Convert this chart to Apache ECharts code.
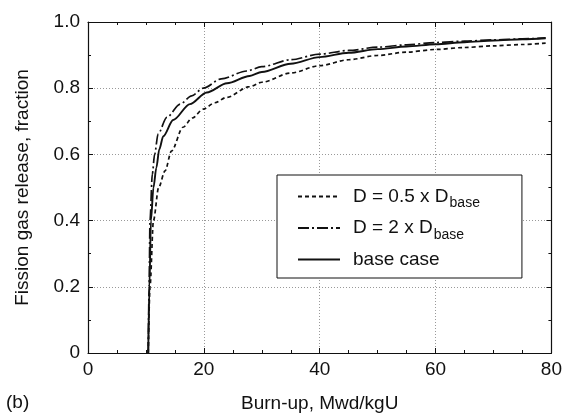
<!DOCTYPE html>
<html>
<head>
<meta charset="utf-8">
<script src="https://cdn.jsdelivr.net/npm/echarts@6/dist/echarts.min.js"></script>
<style>html,body{margin:0;padding:0;background:#fff}#c{width:565px;height:420px}</style>
</head>
<body>
<div id="c"></div>
<script>
// Burn-up (Mwd/kgU) and FGR fraction per case
const halfX = [10.4,10.7,11.3,12.2,13.3,14.4,16.4,18,19.9,21.9,23.9,27.9,30,35,40,45,50,55,60,65,70,75,79];
const halfY = [0,0.2,0.4,0.5,0.55,0.61,0.682,0.71,0.737,0.756,0.772,0.805,0.818,0.846,0.868,0.886,0.899,0.909,0.917,0.923,0.928,0.932,0.936];
const doubleX = [10.4,10.55,10.7,11.1,11.5,12.1,13.6,15.9,17.9,19.9,23,27.4,30,35,40,45,50,55,60,65,70,75,79];
const doubleY = [0,0.2,0.4,0.54,0.6,0.662,0.712,0.752,0.777,0.8,0.828,0.852,0.865,0.886,0.903,0.914,0.924,0.931,0.938,0.942,0.946,0.949,0.952];
const baseX = [10.4,10.6,10.86,11.3,11.8,12.3,13,14.7,17.6,20.5,24,27.9,30,35,40,45,50,55,60,65,70,75,79];
const baseY = [0,0.2,0.4,0.5,0.56,0.615,0.655,0.704,0.752,0.787,0.815,0.837,0.849,0.874,0.894,0.907,0.918,0.926,0.933,0.939,0.944,0.948,0.951];
const xTicks = [0,20,40,60,80];
const yTicks = [0,0.2,0.4,0.6,0.8,1.0];
const names = ['D = 0.5 x D{s|base}', 'D = 2 x D{s|base}', 'base case'];

const zip = (a,b) => a.map((v,i)=>[v,b[i]]);
const FONT = 'Liberation Sans';
const chart = echarts.init(document.getElementById('c'));
const axisCommon = {
  axisLine:{show:true,onZero:false,lineStyle:{color:'#111',width:1.2}},
  axisTick:{show:true,inside:true,length:5,lineStyle:{color:'#111'}},
  minorTick:{show:true,splitNumber:4,length:3,lineStyle:{color:'#111'}},
};
chart.setOption({
  animation:false,
  backgroundColor:'#fff',
  textStyle:{fontFamily:FONT},
  grid:{left:88,right:13,top:22,bottom:67,containLabel:false},
  xAxis:[{
    type:'value',min:xTicks[0],max:xTicks[xTicks.length-1],interval:20,
    ...axisCommon,
    axisLabel:{fontSize:19,color:'#111',margin:7,fontFamily:FONT},
    splitLine:{show:true,lineStyle:{color:'#999',type:[1,2],width:1}},
    name:'Burn-up, Mwd/kgU',nameLocation:'middle',nameGap:41,
    nameTextStyle:{fontSize:19,color:'#111',fontFamily:FONT}
  },{
    type:'value',position:'top',min:0,max:80,interval:20,
    ...axisCommon,axisLabel:{show:false},splitLine:{show:false}
  }],
  yAxis:[{
    type:'value',min:0,max:1,interval:0.2,
    ...axisCommon,
    minorTick:{show:true,splitNumber:2,length:3,lineStyle:{color:'#111'}},
    axisLabel:{fontSize:19,color:'#111',margin:8,fontFamily:FONT,
      formatter:v=> v===0?'0':v.toFixed(1)},
    splitLine:{show:true,lineStyle:{color:'#999',type:[1,2],width:1}},
    name:'Fission gas release, fraction',nameLocation:'middle',nameGap:56,
    nameTextStyle:{fontSize:19,color:'#111',fontFamily:FONT}
  },{
    type:'value',position:'right',min:0,max:1,interval:0.2,
    ...axisCommon,
    minorTick:{show:true,splitNumber:2,length:3,lineStyle:{color:'#111'}},
    axisLabel:{show:false},splitLine:{show:false}
  }],
  legend:{
    orient:'vertical',left:277,top:175,
    data:names,
    itemWidth:42,itemHeight:16,itemGap:8,
    itemStyle:{opacity:0},
    padding:[12,42,9,20],
    backgroundColor:'#fff',borderColor:'#111',borderWidth:1,
    textStyle:{fontSize:19,color:'#111',fontFamily:FONT,padding:[0,0,0,8],
      rich:{s:{fontSize:14,color:'#111',fontFamily:FONT,verticalAlign:'bottom',padding:[14,0,0,1]}}},
    formatter:n=>n
  },
  graphic:[{type:'text',left:6,top:393,style:{text:'(b)',fontSize:19,fill:'#111',fontFamily:FONT}}],
  series:[
    {name:names[0],type:'line',data:zip(halfX,halfY),symbol:'none',smooth:0.3,smoothMonotone:'x',
     lineStyle:{color:'#111',width:1.7,type:[4,3]},itemStyle:{color:'#111'}},
    {name:names[1],type:'line',data:zip(doubleX,doubleY),symbol:'none',smooth:0.3,smoothMonotone:'x',
     lineStyle:{color:'#111',width:1.7,type:[11,3,2,3]},itemStyle:{color:'#111'}},
    {name:names[2],type:'line',data:zip(baseX,baseY),symbol:'none',smooth:0.3,smoothMonotone:'x',
     lineStyle:{color:'#111',width:1.9},itemStyle:{color:'#111'}}
  ]
});
</script>
</body>
</html>
